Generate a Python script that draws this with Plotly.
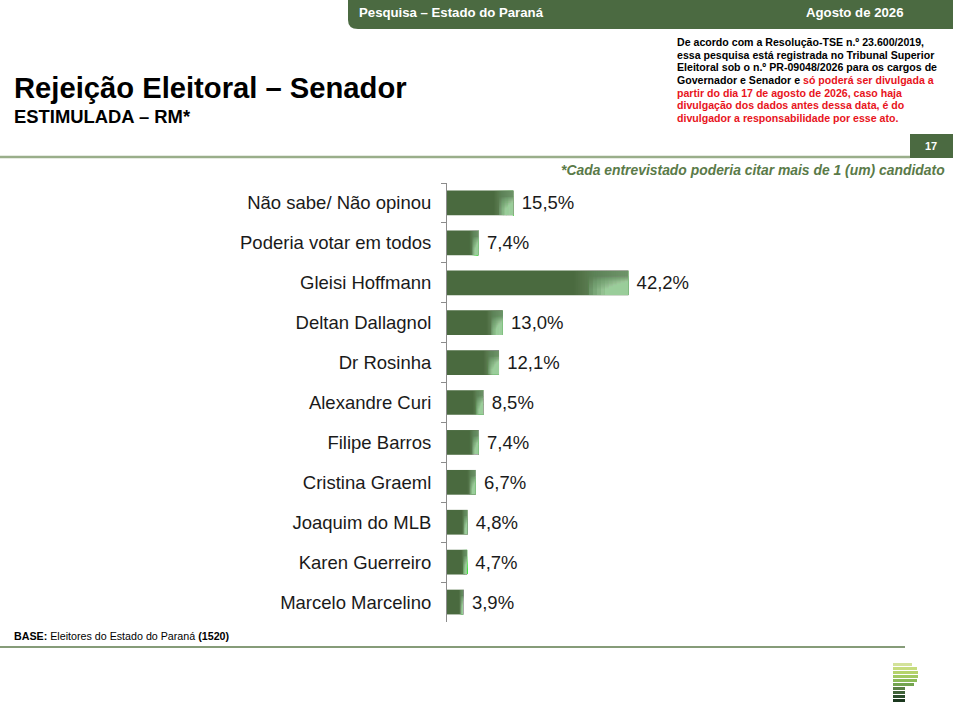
import plotly.graph_objects as go

categories = ["Não sabe/ Não opinou", "Poderia votar em todos", "Gleisi Hoffmann",
              "Deltan Dallagnol", "Dr Rosinha", "Alexandre Curi", "Filipe Barros",
              "Cristina Graeml", "Joaquim do MLB", "Karen Guerreiro", "Marcelo Marcelino"]
values = [15.5, 7.4, 42.2, 13.0, 12.1, 8.5, 7.4, 6.7, 4.8, 4.7, 3.9]

DARK = "#4a6a3f"
FONT = "Liberation Sans, Arial, sans-serif"
BW = 0.62

fig = go.Figure()
fig.add_trace(go.Bar(
    y=categories, x=values, orientation="h",
    marker=dict(color=DARK, line=dict(width=0)),
    width=BW,
    texttemplate=" %{x:.1f}%", textposition="outside",
    textfont=dict(family=FONT, size=18.5, color="#1a1a1a"),
    cliponaxis=False, hoverinfo="skip",
))
# soft lighter end of each bar (imitating the diagonal gradient)
n = 30
for k in range(n):
    frac = 0.3 * (n - k) / n
    fig.add_trace(go.Bar(
        y=categories, x=[v * frac for v in values], base=[v * (1 - frac) for v in values],
        orientation="h", width=BW,
        marker=dict(color="rgba(170,205,160,0.022)", line=dict(width=0)),
        hoverinfo="skip", showlegend=False,
    ))
m = 12
for j in range(m):
    h = BW * (0.25 + 0.55 * j / m)
    for k in range(0, n, 3):
        frac = 0.22 * (n - k) / n
        fig.add_trace(go.Bar(
            y=categories, x=[v * frac for v in values], base=[v * (1 - frac) for v in values],
            orientation="h", width=h, offset=BW / 2 - h,
            marker=dict(color="rgba(210,235,200,0.018)", line=dict(width=0)),
            hoverinfo="skip", showlegend=False,
        ))

W, H = 953, 713
L, R, T, B = 447, 76, 183, 91
pw, ph = W - L - R, H - T - B
def px(x): return (x - L) / pw
def py(y): return 1 - (y - T) / ph

fig.update_layout(
    width=W, height=H,
    margin=dict(l=L, r=R, t=T, b=B),
    paper_bgcolor="white", plot_bgcolor="white",
    barmode="overlay", showlegend=False,
    separators=",.",
    font=dict(family=FONT, color="#1a1a1a"),
    xaxis=dict(range=[0, 100], visible=False, fixedrange=True),
    yaxis=dict(autorange="reversed", showline=True, linecolor="#8c8c8c", linewidth=1,
               ticks="outside", ticklen=5, tickcolor="#8c8c8c", tickson="boundaries",
               tickfont=dict(family=FONT, size=18.5, color="#1a1a1a"),
               ticklabelstandoff=11, showgrid=False, zeroline=False, fixedrange=True),
)

hdr_path = (f"M {px(348)} {py(0)} L {px(953)} {py(0)} L {px(953)} {py(29)} "
            f"L {px(358)} {py(29)} Q {px(348)} {py(29)} {px(348)} {py(20)} Z")
shapes = [
    dict(type="path", xref="paper", yref="paper", path=hdr_path,
         fillcolor="#4b6a41", line=dict(width=0)),
    dict(type="line", xref="paper", yref="paper", x0=px(0), x1=px(910), y0=py(157), y1=py(157),
         line=dict(color="#9aae8a", width=2.5)),
    dict(type="rect", xref="paper", yref="paper", x0=px(910), x1=px(953), y0=py(134), y1=py(158),
         fillcolor="#4b6a41", line=dict(width=0)),
    dict(type="line", xref="paper", yref="paper", x0=px(0), x1=px(905), y0=py(647), y1=py(647),
         line=dict(color="#5e7b4c", width=1.5)),
]
logo = [(663, 909, "#d3e29a"), (667, 914, "#c6dc7e"), (671, 915, "#b5d36c"),
        (675, 915, "#a2c962"), (679, 914, "#8cbb58"), (683, 911, "#73a44f"),
        (687, 902, "#5a8044"), (691, 902, "#416339"), (695, 902, "#2c4d2b"), (699, 902, "#1b381e")]
for y0, x1, c in logo:
    shapes.append(dict(type="rect", xref="paper", yref="paper", x0=px(893), x1=px(x1 + 3),
                       y0=py(y0 + 3), y1=py(y0), fillcolor=c, line=dict(width=0)))
fig.update_layout(shapes=shapes)

def ann(x, y, text, size, color="#000", xanchor="left", family=FONT):
    fig.add_annotation(x=px(x), y=py(y), xref="paper", yref="paper", text=text, showarrow=False,
                       xanchor=xanchor, yanchor="middle", align="left",
                       font=dict(size=size, color=color, family=family))

ann(357, 13, "<b>Pesquisa – Estado do Paraná</b>", 13.2, "white")
ann(905, 13, "<b>Agosto de 2026</b>", 13.2, "white", xanchor="right")
ann(12, 88, "<b>Rejeição Eleitoral – Senador</b>", 29.2)
ann(12, 116, "<b>ESTIMULADA – RM*</b>", 18.4)
ann(931, 146, "<b>17</b>", 11, "white", xanchor="center")
ann(947, 170, "<b><i>*Cada entrevistado poderia citar mais de 1 (um) candidato</i></b>", 13.9, "#5a7a48",
    xanchor="right")

RED = "#e8141c"
disc = [
    ("De acordo com a Resolução-TSE n.º 23.600/2019,", ""),
    ("essa pesquisa está registrada no Tribunal Superior", ""),
    ("Eleitoral sob o n.º PR-09048/2026 para os cargos de", ""),
    ("Governador e Senador e ", "só poderá ser divulgada a"),
    ("", "partir do dia 17 de agosto de 2026, caso haja"),
    ("", "divulgação dos dados antes dessa data, é do"),
    ("", "divulgador a responsabilidade por esse ato."),
]
for i, (blk, red) in enumerate(disc):
    t = ""
    if blk:
        t += f"<b>{blk}</b>"
    if red:
        t += f"<b><span style='color:{RED}'>{red}</span></b>"
    ann(675, 42 + i * 12.7, t, 10.6, "#000")

ann(12, 636, "<b>BASE:</b> Eleitores do Estado do Paraná <b>(1520)</b>", 10.7, "#000")

fig.write_html("out.html", config={"displayModeBar": False, "staticPlot": True},
               post_script="document.body.style.margin='0';document.body.style.overflow='hidden';")
